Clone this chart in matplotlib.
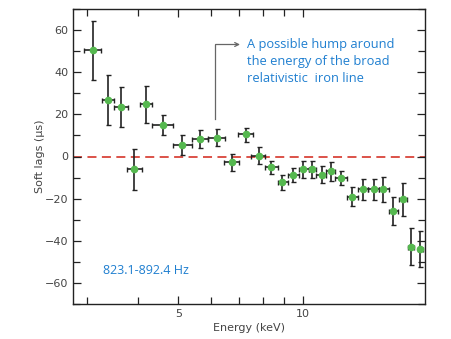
import matplotlib
matplotlib.use("Agg")
import matplotlib.pyplot as plt
from matplotlib.lines import Line2D
from matplotlib.patches import FancyArrowPatch
from matplotlib.ticker import FixedLocator, NullFormatter, MultipleLocator, FixedFormatter

energy = [3.10, 3.37, 3.64, 3.91, 4.17, 4.58, 5.11, 5.65, 6.19, 6.73, 7.28, 7.84, 8.37, 8.93,
          9.48, 10.03, 10.57, 11.16, 11.70, 12.40, 13.20, 14.05, 14.90, 15.70, 16.60, 17.50,
          18.30, 19.30]
e_lo = [2.95, 3.27, 3.50, 3.76, 4.04, 4.31, 4.85, 5.40, 5.91, 6.47, 6.98, 7.50, 8.10, 8.73,
        9.20, 9.78, 10.35, 10.80, 11.40, 12.00, 12.80, 13.60, 14.40, 15.30, 16.20, 17.10,
        18.00, 19.00]
e_hi = [3.25, 3.50, 3.77, 4.09, 4.31, 4.86, 5.40, 5.91, 6.50, 7.00, 7.60, 8.10, 8.70, 9.20,
        9.78, 10.35, 10.80, 11.40, 12.00, 12.80, 13.60, 14.40, 15.30, 16.20, 17.00, 17.90,
        18.60, 19.60]
lag = [50.4, 26.9, 23.7, -6.0, 24.8, 15.0, 5.5, 8.4, 9.0, -2.8, 10.6, 0.3, -5.2, -12.3,
       -8.8, -5.8, -6.0, -8.7, -7.1, -10.3, -19.0, -15.6, -15.6, -15.6, -25.7, -20.2,
       -42.8, -43.9]
lag_hi = [64.5, 38.9, 33.2, 3.6, 33.6, 19.8, 10.0, 12.7, 13.0, 1.3, 13.7, 4.3, -2.0, -8.8,
          -5.4, -1.9, -2.0, -4.4, -2.8, -6.8, -14.5, -10.7, -10.7, -9.5, -19.0, -12.6,
          -33.9, -35.5]
lag_lo = [36.1, 15.0, 14.2, -15.8, 15.8, 10.4, 0.9, 3.8, 5.1, -6.8, 6.8, -3.6, -8.5, -16.1,
          -12.3, -10.0, -10.0, -12.6, -11.5, -13.6, -23.4, -20.5, -20.5, -21.8, -32.7, -28.1,
          -51.7, -52.4]

x_major = [5, 10]
x_minor = [3, 4, 6, 7, 8, 9]
freq_label = "823.1-892.4 Hz"
note = "A possible hump around\nthe energy of the broad\nrelativistic  iron line"

fig = plt.figure(figsize=(4.52, 3.39), dpi=100)
ax = fig.add_axes([73/452, 1-304/339, (425-73)/452, (304-9)/339])
ax.set_xscale("log")
ax.set_xlim(2.78, 19.8)
ax.set_ylim(-70, 70)

ax.axhline(0, color="#d9443a", lw=1.3, ls=(0, (5, 3)), zorder=1)

xerr = [[e - l for e, l in zip(energy, e_lo)], [h - e for e, h in zip(energy, e_hi)]]
yerr = [[v - l for v, l in zip(lag, lag_lo)], [h - v for v, h in zip(lag, lag_hi)]]
ax.errorbar(energy, lag, xerr=xerr, yerr=yerr, fmt="o", ms=4.5, mfc="#55b84f", mec="#55b84f",
            ecolor="#222222", elinewidth=1.2, capsize=1.8, capthick=1.0, zorder=3)

ax.xaxis.set_major_locator(FixedLocator(x_major))
ax.xaxis.set_minor_locator(FixedLocator(x_minor))
ax.xaxis.set_major_formatter(FixedFormatter([str(v) for v in x_major]))
ax.xaxis.set_minor_formatter(NullFormatter())
ax.yaxis.set_major_locator(MultipleLocator(20))
ax.yaxis.set_minor_locator(MultipleLocator(10))

ax.tick_params(which="both", direction="in", top=True, right=True, color="#222222",
               labelsize=8, labelcolor="#444444", width=0.9)
ax.tick_params(which="major", length=6)
ax.tick_params(which="minor", length=5)
for s in ax.spines.values():
    s.set_color("#222222")
    s.set_linewidth(1.0)

ax.set_xlabel("Energy (keV)", fontsize=8, color="#444444", labelpad=3)
ax.set_ylabel("Soft lags (μs)", fontsize=8, color="#444444", labelpad=0)

ax.text(0.085, 0.115, freq_label, transform=ax.transAxes, fontsize=9, color="#1f7fd0",
        family="Open Sans", va="center", ha="left")

fig.text(247/452, 1-38/339, note, fontsize=9.3, color="#1f7fd0", family="Open Sans",
         va="top", ha="left", linespacing=1.4)

xv = 215.5/452
yb = 1-119/339
yt = 1-44.5/339
fig.add_artist(Line2D([xv, xv], [yb, yt], transform=fig.transFigure, color="#666666", lw=0.9))
fig.add_artist(FancyArrowPatch((xv, yt), (240/452, yt), transform=fig.transFigure,
                               arrowstyle="->", color="#666666", lw=0.9, mutation_scale=7,
                               shrinkA=0, shrinkB=0))

fig.savefig("out.png", dpi=100)
